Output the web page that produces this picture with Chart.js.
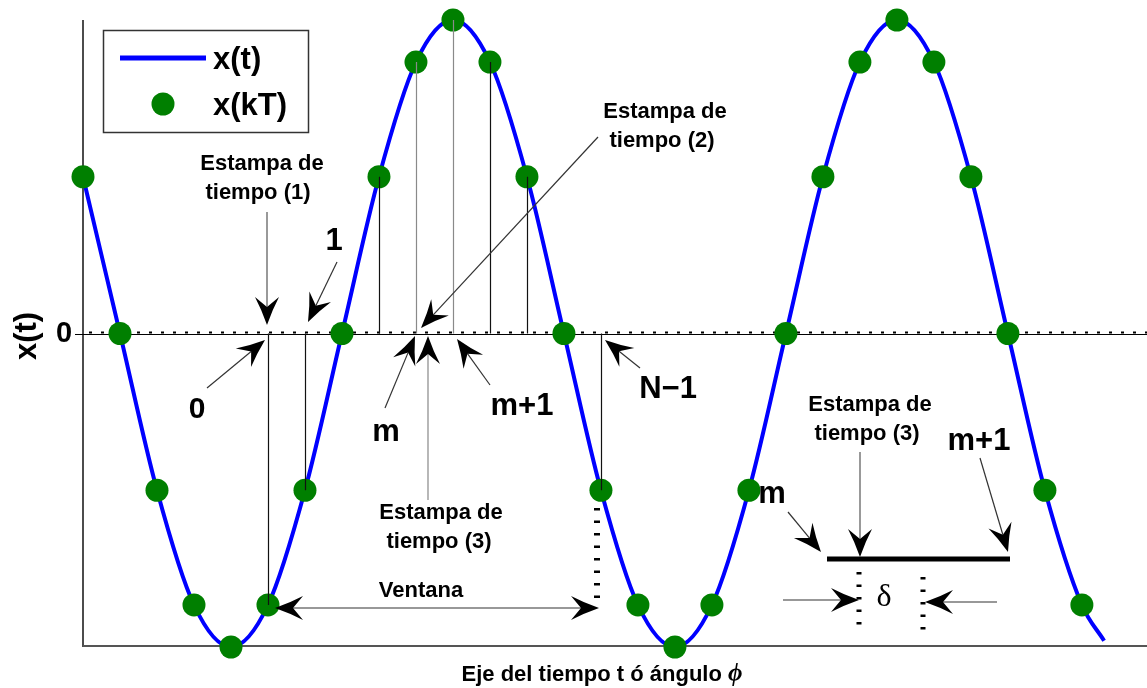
<!DOCTYPE html>
<html>
<head>
<meta charset="utf-8">
<script src="https://cdn.jsdelivr.net/npm/chart.js@4.4.0/dist/chart.umd.min.js"></script>
<style>
  html, body { margin: 0; padding: 0; background: #fff; }
  #wrap { width: 1147px; height: 688px; }
</style>
</head>
<body>
<div id="wrap"><canvas id="chart" width="1147" height="688"></canvas></div>
<script>
//  sample index k (t = kT) and the sampled values x(kT)
const sampleK = [0, 1, 2, 3, 4, 5, 6, 7, 8, 9, 10, 11, 12, 13, 14, 15, 16, 17, 18, 19, 20, 21, 22, 23, 24, 25, 26, 27];
const sampleX = [0.5, 0, -0.5, -0.866, -1, -0.866, -0.5, 0, 0.5, 0.866, 1, 0.866, 0.5, 0,
                 -0.5, -0.866, -1, -0.866, -0.5, 0, 0.5, 0.866, 1, 0.866, 0.5, 0, -0.5, -0.866];

//  continuous trace x(t): goes through the samples and ends a bit after the last one
const curveK = [...sampleK, 27.6];
const curveX = [...sampleX, -0.98];

//  samples that get a vertical line down/up to the time axis
const stemK = [5, 6, 8, 9, 10, 11, 12, 14];
const grayStemK = [9, 10];

const yTicks = [0];

const FONT = "'Liberation Sans', Arial, sans-serif";

function text(ctx, str, x, y, size, align = "center") {
    ctx.save();
    ctx.font = `bold ${size}px ${FONT}`;
    ctx.fillStyle = "#000";
    ctx.textAlign = align;
    ctx.textBaseline = "middle";
    ctx.fillText(str, x, y);
    ctx.restore();
}

//  thin shaft + black barbed head, head tip at (x2, y2)
function arrow(ctx, x1, y1, x2, y2, shaft = "#333") {
    const len = 28, half = 12, notch = 18;
    const ang = Math.atan2(y2 - y1, x2 - x1);
    ctx.save();
    ctx.strokeStyle = shaft;
    ctx.lineWidth = 1.2;
    ctx.beginPath();
    ctx.moveTo(x1, y1);
    ctx.lineTo(x2 - Math.cos(ang) * notch, y2 - Math.sin(ang) * notch);
    ctx.stroke();
    ctx.translate(x2, y2);
    ctx.rotate(ang);
    ctx.fillStyle = "#000";
    ctx.beginPath();
    ctx.moveTo(0, 0);
    ctx.quadraticCurveTo(-len * 0.55, -half * 0.45, -len, -half);
    ctx.lineTo(-notch, 0);
    ctx.lineTo(-len, half);
    ctx.quadraticCurveTo(-len * 0.55, half * 0.45, 0, 0);
    ctx.fill();
    ctx.restore();
}

//  column of short horizontal dashes
function dashColumn(ctx, x, y1, y2, w) {
    ctx.save();
    ctx.strokeStyle = "#000";
    ctx.lineWidth = w;
    ctx.setLineDash([2.5, 10]);
    ctx.beginPath();
    ctx.moveTo(x, y1);
    ctx.lineTo(x, y2);
    ctx.stroke();
    ctx.restore();
}

const axesPlugin = {
    id: "axesPlugin",
    beforeDatasetsDraw(chart) {
        const { ctx, chartArea: a, scales: { x, y } } = chart;
        ctx.save();
        //  left axis and bottom frame
        ctx.strokeStyle = "#111";
        ctx.lineWidth = 1.5;
        ctx.beginPath();
        ctx.moveTo(a.left, a.top);
        ctx.lineTo(a.left, a.bottom);
        ctx.stroke();
        ctx.strokeStyle = "#555";
        ctx.lineWidth = 2;
        ctx.beginPath();
        ctx.moveTo(a.left, a.bottom - 1);
        ctx.lineTo(a.right, a.bottom - 1);
        ctx.stroke();

        //  time axis at zero: solid line + dotted line on top
        yTicks.forEach(v => {
            const py = y.getPixelForValue(v);
            ctx.strokeStyle = "#000";
            ctx.lineWidth = 1.2;
            ctx.beginPath();
            ctx.moveTo(a.left - 8, py + 1);
            ctx.lineTo(a.right, py + 1);
            ctx.stroke();
            ctx.setLineDash([3, 9]);
            ctx.lineWidth = 2;
            ctx.beginPath();
            ctx.moveTo(a.left + 6, py - 1);
            ctx.lineTo(a.right, py - 1);
            ctx.stroke();
            ctx.setLineDash([]);
            text(ctx, String(v), a.left - 19, py, 29);
        });
        ctx.restore();
    },
    afterDatasetsDraw(chart) {
        const { ctx, chartArea: a, scales: { x, y } } = chart;
        const y0 = y.getPixelForValue(0);

        //  stems
        ctx.save();
        ctx.lineWidth = 1.2;
        stemK.forEach(k => {
            const px = Math.round(x.getPixelForValue(k)) + 0.5;
            ctx.strokeStyle = grayStemK.includes(k) ? "#8a8a8a" : "#111";
            ctx.beginPath();
            ctx.moveTo(px, y0);
            ctx.lineTo(px, y.getPixelForValue(sampleX[k]));
            ctx.stroke();
        });
        ctx.restore();

        //  axis titles
        ctx.save();
        ctx.translate(27, 336);
        ctx.rotate(-Math.PI / 2);
        text(ctx, "x(t)", 0, 0, 31);
        ctx.restore();

        ctx.save();
        ctx.font = `bold 22px ${FONT}`;
        const main = "Eje del tiempo t ó ángulo ";
        const w1 = ctx.measureText(main).width;
        ctx.font = `italic bold 25px 'Liberation Serif', serif`;
        const w2 = ctx.measureText("ϕ").width;
        const sx = 602 - (w1 + w2) / 2;
        ctx.textBaseline = "alphabetic";
        ctx.fillStyle = "#000";
        ctx.font = `bold 22px ${FONT}`;
        ctx.fillText(main, sx, 681);
        ctx.font = `italic bold 25px 'Liberation Serif', serif`;
        ctx.fillText("ϕ", sx + w1, 681);
        ctx.restore();

        //  legend
        ctx.save();
        ctx.fillStyle = "#fff";
        ctx.fillRect(103, 30, 205, 102);
        ctx.strokeStyle = "#333";
        ctx.lineWidth = 1.5;
        ctx.strokeRect(103.5, 30.5, 205, 102);
        ctx.strokeStyle = "#0000ff";
        ctx.lineWidth = 5;
        ctx.beginPath();
        ctx.moveTo(120, 58);
        ctx.lineTo(206, 58);
        ctx.stroke();
        ctx.fillStyle = "#007f00";
        ctx.beginPath();
        ctx.arc(163, 104, 11.5, 0, Math.PI * 2);
        ctx.fill();
        ctx.restore();
        text(ctx, "x(t)", 213, 60, 31, "left");
        text(ctx, "x(kT)", 213, 106, 31, "left");

        //  annotations around the window
        text(ctx, "Estampa de", 262, 164, 22);
        text(ctx, "tiempo (1)", 258, 193, 22);
        arrow(ctx, 267, 212, 267, 325, "#555");
        text(ctx, "1", 334, 241, 31);
        arrow(ctx, 337, 262, 308, 322);
        text(ctx, "0", 197, 410, 30);
        arrow(ctx, 207, 388, 265, 340);

        text(ctx, "Estampa de", 665, 112, 22);
        text(ctx, "tiempo (2)", 662, 141, 22);
        arrow(ctx, 598, 137, 421, 328);

        text(ctx, "m", 386, 432, 31);
        arrow(ctx, 385, 408, 415, 336);
        arrow(ctx, 428, 500, 428, 336, "#888");
        text(ctx, "Estampa de", 441, 513, 22);
        text(ctx, "tiempo (3)", 439, 542, 22);
        text(ctx, "m+1", 522, 406, 31);
        arrow(ctx, 490, 385, 457, 339);
        text(ctx, "N\u22121", 668, 389, 31);
        arrow(ctx, 640, 368, 605, 340);

        //  window
        dashColumn(ctx, 597, 508, 602, 6);
        text(ctx, "Ventana", 421, 591, 22);
        arrow(ctx, 430, 608, 275, 608);
        arrow(ctx, 430, 608, 599, 608);

        //  detail of time stamp (3) between m and m+1
        text(ctx, "Estampa de", 870, 405, 22);
        text(ctx, "tiempo (3)", 867, 434, 22);
        text(ctx, "m+1", 979, 441, 31);
        text(ctx, "m", 772, 494, 31);
        ctx.save();
        ctx.strokeStyle = "#000";
        ctx.lineWidth = 5;
        ctx.beginPath();
        ctx.moveTo(827, 559);
        ctx.lineTo(1010, 559);
        ctx.stroke();
        ctx.restore();
        arrow(ctx, 788, 512, 821, 552);
        arrow(ctx, 860, 452, 860, 557, "#555");
        arrow(ctx, 980, 458, 1008, 552);
        dashColumn(ctx, 859, 572, 630, 5);
        dashColumn(ctx, 923, 577, 630, 5);
        arrow(ctx, 783, 600, 859, 600, "#333");
        arrow(ctx, 997, 602, 925, 602, "#333");
        ctx.save();
        ctx.font = `32px 'Liberation Serif', serif`;
        ctx.fillStyle = "#000";
        ctx.textAlign = "center";
        ctx.textBaseline = "middle";
        ctx.fillText("\u03b4", 884, 598);
        ctx.restore();
    }
};

new Chart(document.getElementById("chart"), {
    type: "line",
    data: {
        datasets: [
            {
                label: "x(kT)",
                data: sampleK.map((k, i) => ({ x: k, y: sampleX[i] })),
                showLine: false,
                pointRadius: 11.5,
                pointBackgroundColor: "#007f00",
                pointBorderWidth: 0,
                clip: false,
                order: 0
            },
            {
                label: "x(t)",
                data: curveK.map((k, i) => ({ x: k, y: curveX[i] })),
                borderColor: "#0000ff",
                borderWidth: 4,
                pointRadius: 0,
                cubicInterpolationMode: "monotone",
                clip: false,
                order: 1
            }
        ]
    },
    options: {
        responsive: false,
        animation: false,
        events: [],
        layout: { autoPadding: false, padding: { left: 83, right: 0, top: 20, bottom: 41 } },
        scales: {
            x: { type: "linear", min: 0, max: 28.76, display: false },
            y: { min: -1, max: 1, display: false }
        },
        plugins: {
            legend: { display: false },
            tooltip: { enabled: false }
        }
    },
    plugins: [axesPlugin]
});
</script>
</body>
</html>
